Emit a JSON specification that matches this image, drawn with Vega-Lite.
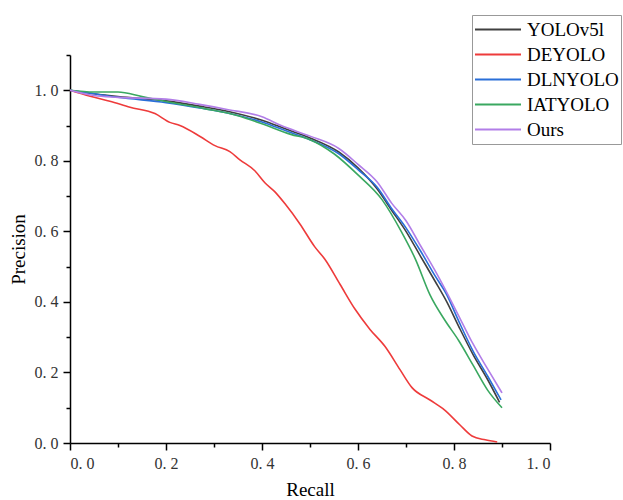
{
  "$schema": "https://vega.github.io/schema/vega-lite/v6.json",
  "width": 480,
  "height": 388,
  "autosize": {"type": "none"},
  "padding": {"left": 70, "top": 55, "right": 73, "bottom": 57},
  "background": "white",
  "config": {
    "view": {"stroke": null},
    "font": "Liberation Serif"
  },
  "data": {
    "values": [
      {"model": "YOLOv5l", "recall": 0.0, "precision": 1.0},
      {"model": "YOLOv5l", "recall": 0.05, "precision": 0.99},
      {"model": "YOLOv5l", "recall": 0.1, "precision": 0.982},
      {"model": "YOLOv5l", "recall": 0.2, "precision": 0.97},
      {"model": "YOLOv5l", "recall": 0.27, "precision": 0.955},
      {"model": "YOLOv5l", "recall": 0.33, "precision": 0.94},
      {"model": "YOLOv5l", "recall": 0.4, "precision": 0.915},
      {"model": "YOLOv5l", "recall": 0.45, "precision": 0.89},
      {"model": "YOLOv5l", "recall": 0.5, "precision": 0.865},
      {"model": "YOLOv5l", "recall": 0.56, "precision": 0.825},
      {"model": "YOLOv5l", "recall": 0.6, "precision": 0.78},
      {"model": "YOLOv5l", "recall": 0.64, "precision": 0.72},
      {"model": "YOLOv5l", "recall": 0.67, "precision": 0.66},
      {"model": "YOLOv5l", "recall": 0.7, "precision": 0.6},
      {"model": "YOLOv5l", "recall": 0.73, "precision": 0.53},
      {"model": "YOLOv5l", "recall": 0.76, "precision": 0.46},
      {"model": "YOLOv5l", "recall": 0.785, "precision": 0.4},
      {"model": "YOLOv5l", "recall": 0.81, "precision": 0.33},
      {"model": "YOLOv5l", "recall": 0.84, "precision": 0.25},
      {"model": "YOLOv5l", "recall": 0.87, "precision": 0.18},
      {"model": "YOLOv5l", "recall": 0.895, "precision": 0.115},

      {"model": "DEYOLO", "recall": 0.0, "precision": 1.0},
      {"model": "DEYOLO", "recall": 0.042, "precision": 0.983},
      {"model": "DEYOLO", "recall": 0.083, "precision": 0.969},
      {"model": "DEYOLO", "recall": 0.125, "precision": 0.952},
      {"model": "DEYOLO", "recall": 0.177, "precision": 0.934},
      {"model": "DEYOLO", "recall": 0.208, "precision": 0.909},
      {"model": "DEYOLO", "recall": 0.229, "precision": 0.9},
      {"model": "DEYOLO", "recall": 0.271, "precision": 0.869},
      {"model": "DEYOLO", "recall": 0.302, "precision": 0.843},
      {"model": "DEYOLO", "recall": 0.333, "precision": 0.826},
      {"model": "DEYOLO", "recall": 0.354, "precision": 0.803},
      {"model": "DEYOLO", "recall": 0.385, "precision": 0.772},
      {"model": "DEYOLO", "recall": 0.406, "precision": 0.738},
      {"model": "DEYOLO", "recall": 0.427, "precision": 0.712},
      {"model": "DEYOLO", "recall": 0.448, "precision": 0.678},
      {"model": "DEYOLO", "recall": 0.479, "precision": 0.621},
      {"model": "DEYOLO", "recall": 0.51, "precision": 0.556},
      {"model": "DEYOLO", "recall": 0.531, "precision": 0.521},
      {"model": "DEYOLO", "recall": 0.5625, "precision": 0.45},
      {"model": "DEYOLO", "recall": 0.594, "precision": 0.379},
      {"model": "DEYOLO", "recall": 0.625, "precision": 0.322},
      {"model": "DEYOLO", "recall": 0.656, "precision": 0.274},
      {"model": "DEYOLO", "recall": 0.6875, "precision": 0.208},
      {"model": "DEYOLO", "recall": 0.7125, "precision": 0.157},
      {"model": "DEYOLO", "recall": 0.75, "precision": 0.122},
      {"model": "DEYOLO", "recall": 0.78, "precision": 0.094},
      {"model": "DEYOLO", "recall": 0.8125, "precision": 0.051},
      {"model": "DEYOLO", "recall": 0.8375, "precision": 0.02},
      {"model": "DEYOLO", "recall": 0.865, "precision": 0.009},
      {"model": "DEYOLO", "recall": 0.89, "precision": 0.003},

      {"model": "DLNYOLO", "recall": 0.0, "precision": 1.0},
      {"model": "DLNYOLO", "recall": 0.05, "precision": 0.99},
      {"model": "DLNYOLO", "recall": 0.1, "precision": 0.98},
      {"model": "DLNYOLO", "recall": 0.2, "precision": 0.965},
      {"model": "DLNYOLO", "recall": 0.27, "precision": 0.95},
      {"model": "DLNYOLO", "recall": 0.33, "precision": 0.935},
      {"model": "DLNYOLO", "recall": 0.4, "precision": 0.91},
      {"model": "DLNYOLO", "recall": 0.45, "precision": 0.885},
      {"model": "DLNYOLO", "recall": 0.5, "precision": 0.86},
      {"model": "DLNYOLO", "recall": 0.56, "precision": 0.82},
      {"model": "DLNYOLO", "recall": 0.6, "precision": 0.775},
      {"model": "DLNYOLO", "recall": 0.64, "precision": 0.725},
      {"model": "DLNYOLO", "recall": 0.67, "precision": 0.665},
      {"model": "DLNYOLO", "recall": 0.7, "precision": 0.61},
      {"model": "DLNYOLO", "recall": 0.73, "precision": 0.545},
      {"model": "DLNYOLO", "recall": 0.76, "precision": 0.475},
      {"model": "DLNYOLO", "recall": 0.785, "precision": 0.42},
      {"model": "DLNYOLO", "recall": 0.81, "precision": 0.345},
      {"model": "DLNYOLO", "recall": 0.84, "precision": 0.26},
      {"model": "DLNYOLO", "recall": 0.87, "precision": 0.19},
      {"model": "DLNYOLO", "recall": 0.898, "precision": 0.122},

      {"model": "IATYOLO", "recall": 0.0, "precision": 1.0},
      {"model": "IATYOLO", "recall": 0.05, "precision": 0.995},
      {"model": "IATYOLO", "recall": 0.1, "precision": 0.995},
      {"model": "IATYOLO", "recall": 0.15, "precision": 0.982},
      {"model": "IATYOLO", "recall": 0.2, "precision": 0.968},
      {"model": "IATYOLO", "recall": 0.28, "precision": 0.948},
      {"model": "IATYOLO", "recall": 0.35, "precision": 0.928},
      {"model": "IATYOLO", "recall": 0.4, "precision": 0.905},
      {"model": "IATYOLO", "recall": 0.46, "precision": 0.875},
      {"model": "IATYOLO", "recall": 0.5, "precision": 0.86},
      {"model": "IATYOLO", "recall": 0.55, "precision": 0.82},
      {"model": "IATYOLO", "recall": 0.6, "precision": 0.76},
      {"model": "IATYOLO", "recall": 0.65, "precision": 0.69},
      {"model": "IATYOLO", "recall": 0.69, "precision": 0.6},
      {"model": "IATYOLO", "recall": 0.72, "precision": 0.52},
      {"model": "IATYOLO", "recall": 0.75, "precision": 0.42},
      {"model": "IATYOLO", "recall": 0.78, "precision": 0.35},
      {"model": "IATYOLO", "recall": 0.81, "precision": 0.29},
      {"model": "IATYOLO", "recall": 0.84, "precision": 0.22},
      {"model": "IATYOLO", "recall": 0.87, "precision": 0.15},
      {"model": "IATYOLO", "recall": 0.9, "precision": 0.1},

      {"model": "Ours", "recall": 0.0, "precision": 1.0},
      {"model": "Ours", "recall": 0.05, "precision": 0.985},
      {"model": "Ours", "recall": 0.1, "precision": 0.98},
      {"model": "Ours", "recall": 0.2, "precision": 0.975},
      {"model": "Ours", "recall": 0.27, "precision": 0.96},
      {"model": "Ours", "recall": 0.33, "precision": 0.945},
      {"model": "Ours", "recall": 0.4, "precision": 0.925},
      {"model": "Ours", "recall": 0.44, "precision": 0.9},
      {"model": "Ours", "recall": 0.5, "precision": 0.87},
      {"model": "Ours", "recall": 0.56, "precision": 0.835},
      {"model": "Ours", "recall": 0.6, "precision": 0.79},
      {"model": "Ours", "recall": 0.64, "precision": 0.74},
      {"model": "Ours", "recall": 0.67, "precision": 0.68},
      {"model": "Ours", "recall": 0.7, "precision": 0.63},
      {"model": "Ours", "recall": 0.73, "precision": 0.56},
      {"model": "Ours", "recall": 0.76, "precision": 0.49},
      {"model": "Ours", "recall": 0.78, "precision": 0.44},
      {"model": "Ours", "recall": 0.81, "precision": 0.36},
      {"model": "Ours", "recall": 0.84, "precision": 0.28},
      {"model": "Ours", "recall": 0.87, "precision": 0.21},
      {"model": "Ours", "recall": 0.9, "precision": 0.142}
    ]
  },
  "mark": {"type": "line", "strokeWidth": 1.6, "interpolate": "monotone"},
  "encoding": {
    "x": {
      "field": "recall",
      "type": "quantitative",
      "scale": {"domain": [0, 1.0], "nice": false},
      "axis": {
        "title": "Recall",
        "values": [0, 0.1, 0.2, 0.3, 0.4, 0.5, 0.6, 0.7, 0.8, 0.9, 1.0],
        "labelExpr": "round(datum.value*10) % 2 == 0 ? replace(format(datum.value, '.1f'), '.', '. ') : ''",
        "grid": false,
        "domainColor": "black",
        "domainWidth": 1.5,
        "tickColor": "black",
        "tickWidth": 1.5,
        "tickSize": {"condition": {"test": "round(datum.value*10) % 2 == 0", "value": 7}, "value": 4},
        "labelFont": "Liberation Serif",
        "labelFontSize": 16,
        "labelColor": "#333",
        "labelPadding": 5,
        "titleFont": "Liberation Serif",
        "titleFontSize": 19,
        "titleFontWeight": "normal",
        "titleColor": "black",
        "titlePadding": 9
      }
    },
    "y": {
      "field": "precision",
      "type": "quantitative",
      "scale": {"domain": [0, 1.1], "nice": false},
      "axis": {
        "title": "Precision",
        "values": [0, 0.1, 0.2, 0.3, 0.4, 0.5, 0.6, 0.7, 0.8, 0.9, 1.0, 1.1],
        "labelExpr": "round(datum.value*10) % 2 == 0 && datum.value < 1.05 ? replace(format(datum.value, '.1f'), '.', '. ') : ''",
        "grid": false,
        "domainColor": "black",
        "domainWidth": 1.5,
        "tickColor": "black",
        "tickWidth": 1.5,
        "tickSize": {"condition": {"test": "round(datum.value*10) % 2 == 0 && datum.value < 1.05", "value": 7}, "value": 4},
        "labelFont": "Liberation Serif",
        "labelFontSize": 16,
        "labelColor": "#333",
        "labelPadding": 5,
        "titleFont": "Liberation Serif",
        "titleFontSize": 19,
        "titleFontWeight": "normal",
        "titleColor": "black",
        "titlePadding": 6
      }
    },
    "color": {
      "field": "model",
      "type": "nominal",
      "sort": ["YOLOv5l", "DEYOLO", "DLNYOLO", "IATYOLO", "Ours"],
      "scale": {
        "domain": ["YOLOv5l", "DEYOLO", "DLNYOLO", "IATYOLO", "Ours"],
        "range": ["#404040", "#ee3b3b", "#2a6fd8", "#3aa860", "#b27ee8"]
      },
      "legend": {
        "title": null,
        "orient": "none",
        "legendX": 402,
        "legendY": -40,
        "symbolType": "stroke",
        "symbolSize": 2116,
        "symbolStrokeWidth": 2,
        "clipHeight": 25,
        "labelFont": "Liberation Serif",
        "labelFontSize": 19,
        "labelLimit": 200,
        "labelColor": "black",
        "labelOffset": 5,
        "rowPadding": 0,
        "strokeColor": "#999",
        "padding": 2,
        "fillColor": "white"
      }
    }
  }
}
